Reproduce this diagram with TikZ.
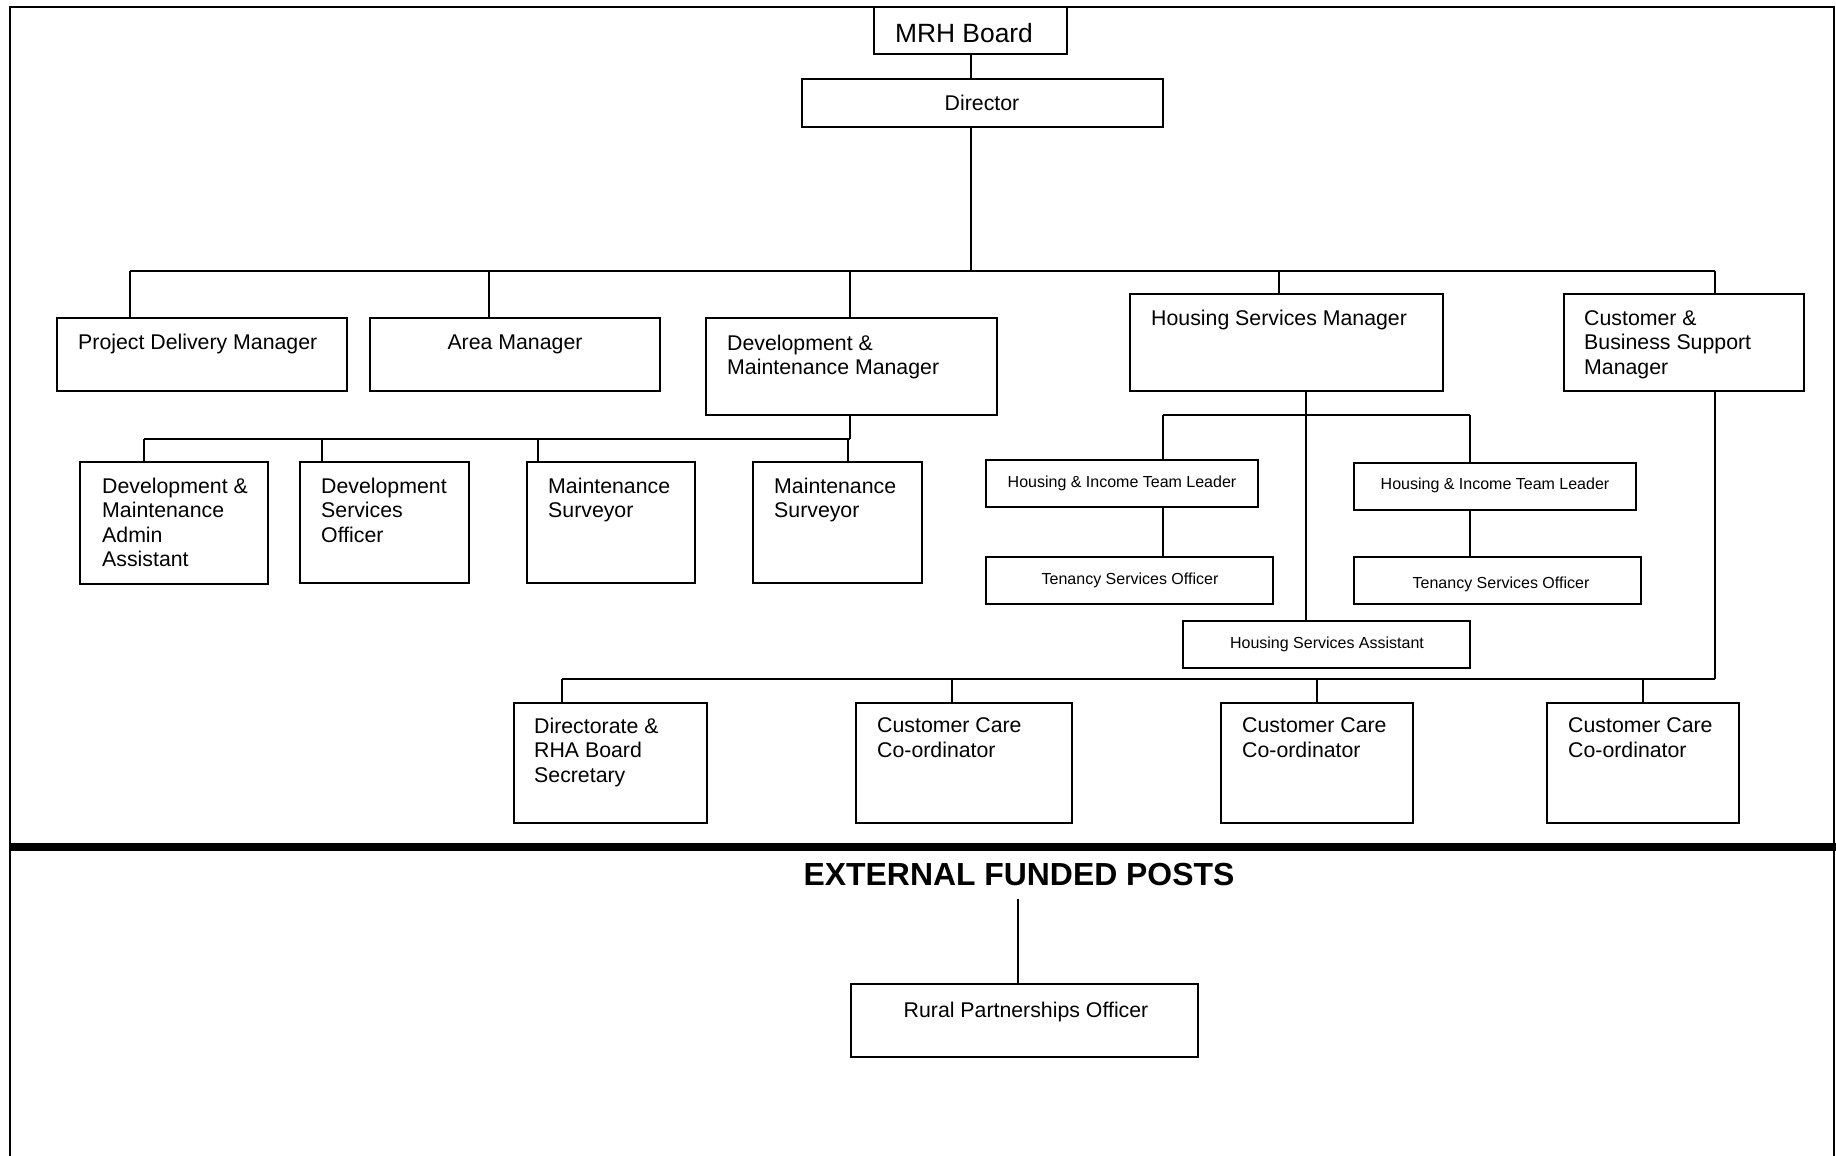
\documentclass[tikz,border=0pt]{standalone}
\usepackage{fontspec}
\setmainfont{Liberation Sans}
\usetikzlibrary{fit}
\tikzset{
  box/.style={draw, line width=2.2pt, inner sep=0pt},
  conn/.style={line width=1.6pt},
  busline/.style={line width=2.4pt},
  frame/.style={line width=2.2pt},
  txt/.style={inner sep=0pt, anchor=north west, align=left, font=\fontsize{21.3}{24.6}\selectfont},
  ctxt/.style={inner sep=0pt, anchor=center, text height=0.72em, text depth=0.2em, font=\fontsize{21.3}{24.6}\selectfont},
  stxt/.style={inner sep=0pt, anchor=center, text height=0.72em, text depth=0.2em, font=\fontsize{16}{19}\selectfont},
}
\begin{document}
\begin{tikzpicture}[x=1pt,y=-1pt]
\useasboundingbox (0,0) rectangle (1836,1156);
% frame
\draw[frame] (10,1160) -- (10,7) -- (1834,7) -- (1834,1160);
\draw[line width=8pt] (10,847) -- (1836,847);

% boxes
\node[box, fit={(874,7) (1067,54)}] (mrh) {};
\node[box, fit={(802,79) (1163,127)}] (dir) {};
\node[box, fit={(57,318) (347,391)}] (pdm) {};
\node[box, fit={(370,318) (660,391)}] (am) {};
\node[box, fit={(706,318) (997,415)}] (dmm) {};
\node[box, fit={(1130,294) (1443,391)}] (hsm) {};
\node[box, fit={(1564,294) (1804,391)}] (cbsm) {};
\node[box, fit={(80,462) (268,584)}] (dmaa) {};
\node[box, fit={(300,462) (469,583)}] (dso) {};
\node[box, fit={(527,462) (695,583)}] (ms1) {};
\node[box, fit={(753,462) (922,583)}] (ms2) {};
\node[box, fit={(986,460) (1258,507)}] (hitl1) {};
\node[box, fit={(1354,463) (1636,510)}] (hitl2) {};
\node[box, fit={(986,557) (1273,604)}] (tso1) {};
\node[box, fit={(1354,557) (1641,604)}] (tso2) {};
\node[box, fit={(1183,621) (1470,668)}] (hsa) {};
\node[box, fit={(514,703) (707,823)}] (drha) {};
\node[box, fit={(856,703) (1072,823)}] (cc1) {};
\node[box, fit={(1221,703) (1413,823)}] (cc2) {};
\node[box, fit={(1547,703) (1739,823)}] (cc3) {};
\node[box, fit={(851,984) (1198,1057)}] (rpo) {};

% texts
\node[ctxt, font=\fontsize{26.4}{30}\selectfont] (tmrh) at (964,40) {MRH Board};
\node[ctxt] (tdir) at (982,107.5) {Director};
\node[txt] (tpdm) at (78,333.5) {Project Delivery Manager};
\node[ctxt] (tam) at (515,346.5) {Area Manager};
\node[txt] (tdmm) at (727,334.5) {Development \&\\Maintenance Manager};
\node[txt] (thsm) at (1151,310) {Housing Services Manager};
\node[txt] (tcbsm) at (1584,310) {Customer \&\\Business Support\\Manager};
\node[txt] (tdmaa) at (102,477.5) {Development \&\\Maintenance\\Admin\\Assistant};
\node[txt] (tdso) at (321,477.5) {Development\\Services\\Officer};
\node[txt] (tms1) at (548,477.5) {Maintenance\\Surveyor};
\node[txt] (tms2) at (774,477.5) {Maintenance\\Surveyor};
\node[stxt] (thitl1) at (1122,484.5) {Housing \& Income Team Leader};
\node[stxt] (thitl2) at (1495,486.5) {Housing \& Income Team Leader};
\node[stxt] (ttso1) at (1130,581.5) {Tenancy Services Officer};
\node[stxt] (ttso2) at (1501,585.5) {Tenancy Services Officer};
\node[stxt] (thsa) at (1327,645.5) {Housing Services Assistant};
\node[txt] (tdrha) at (534,717.5) {Directorate \&\\RHA Board\\Secretary};
\node[txt] (tcc1) at (877,717.5) {Customer Care\\Co-ordinator};
\node[txt] (tcc2) at (1242,717.5) {Customer Care\\Co-ordinator};
\node[txt] (tcc3) at (1568,717.5) {Customer Care\\Co-ordinator};
\node[ctxt, font=\bfseries\fontsize{31.9}{36}\selectfont] (title) at (1019,883) {EXTERNAL FUNDED POSTS};
\node[ctxt] (trpo) at (1026,1015) {Rural Partnerships Officer};

% connectors
\coordinate (mx) at (971,0);
\draw[conn] (mx |- mrh.south) -- (mx |- dir.north);
\coordinate (busA) at (971,271);
\draw[conn] (mx |- dir.south) -- (busA);
\coordinate (a1) at (130,271);
\coordinate (a2) at (489,271);
\coordinate (a3) at (850,271);
\coordinate (a4) at (1279,271);
\coordinate (a5) at (1715,271);
\draw[busline] (a1) -- (a5);
\draw[conn] (a1) -- (a1 |- pdm.north);
\draw[conn] (a2) -- (a2 |- am.north);
\draw[conn] (a3) -- (a3 |- dmm.north);
\draw[conn] (a4) -- (a4 |- hsm.north);
\draw[conn] (a5) -- (a5 |- cbsm.north);

% development bus
\coordinate (d0) at (850,439);
\coordinate (d1) at (144,439);
\coordinate (d2) at (322,439);
\coordinate (d3) at (538,439);
\coordinate (d4) at (848,439);
\draw[conn] (d0 |- dmm.south) -- (d0);
\draw[busline] (d1) -- (d0);
\draw[conn] (d1) -- (d1 |- dmaa.north);
\draw[conn] (d2) -- (d2 |- dso.north);
\draw[conn] (d3) -- (d3 |- ms1.north);
\draw[conn] (d4) -- (d4 |- ms2.north);

% housing
\coordinate (h0) at (1306,415);
\coordinate (h1) at (1163,415);
\coordinate (h2) at (1470,415);
\draw[conn] (h0 |- hsm.south) -- (h0 |- hsa.north);
\draw[busline] (h1) -- (h2);
\draw[conn] (h1) -- (h1 |- hitl1.north);
\draw[conn] (h2) -- (h2 |- hitl2.north);
\draw[conn] (h1 |- hitl1.south) -- (h1 |- tso1.north);
\draw[conn] (h2 |- hitl2.south) -- (h2 |- tso2.north);

% customer bus
\coordinate (c0) at (1715,679);
\coordinate (c1) at (562,679);
\coordinate (c2) at (952,679);
\coordinate (c3) at (1317,679);
\coordinate (c4) at (1643,679);
\draw[conn] (c0 |- cbsm.south) -- (c0);
\draw[busline] (c1) -- (c0);
\draw[conn] (c1) -- (c1 |- drha.north);
\draw[conn] (c2) -- (c2 |- cc1.north);
\draw[conn] (c3) -- (c3 |- cc2.north);
\draw[conn] (c4) -- (c4 |- cc3.north);

% external
\coordinate (e0) at (1018,899);
\draw[conn] (e0) -- (e0 |- rpo.north);
\end{tikzpicture}
\end{document}
